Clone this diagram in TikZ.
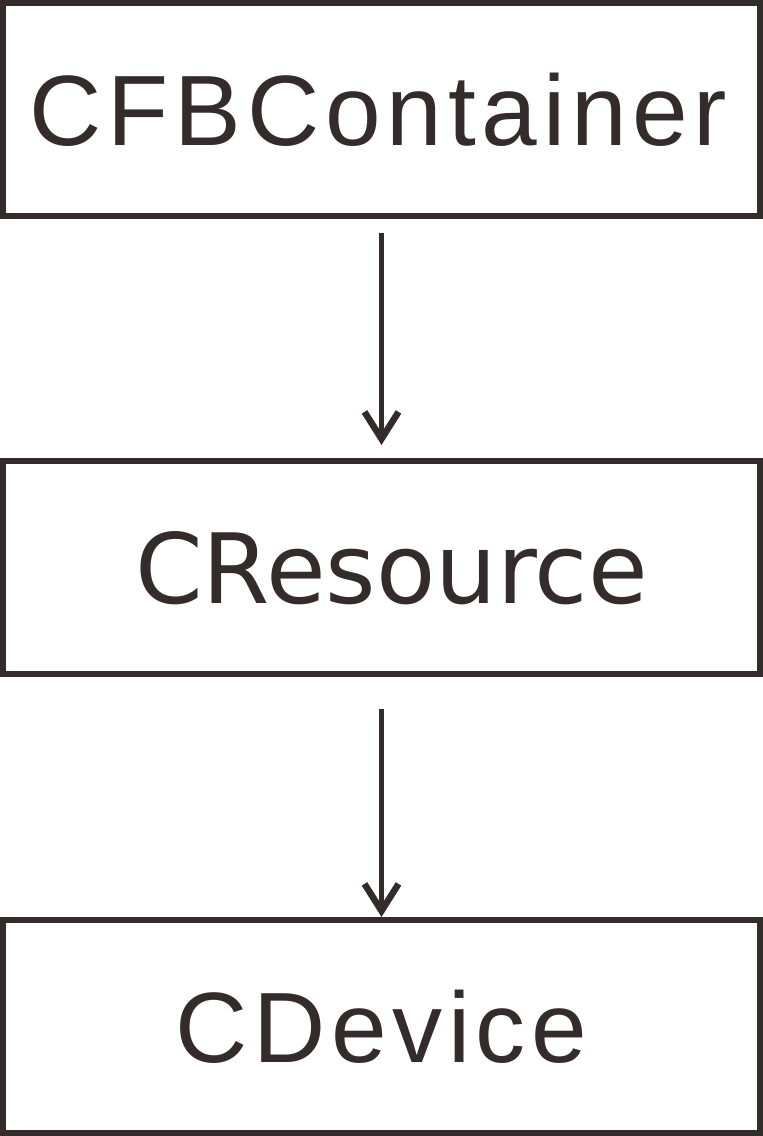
\documentclass[tikz,border=0pt]{standalone}
\usepackage{fontspec}
\setmainfont{Liberation Sans}
\newfontfamily\dejavu{DejaVu Sans}
\usetikzlibrary{arrows.meta}
\definecolor{ink}{HTML}{342C2A}
\begin{document}
\begin{tikzpicture}[x=1pt,y=-1pt,
  box/.style={draw=ink, line width=6pt, minimum width=757pt, minimum height=213pt,
    inner sep=0pt, text=ink, text height=71pt, text depth=0pt,
    font=\fontsize{100}{100}\selectfont},
  conn/.style={draw=ink, line width=5.5pt, -{Straight Barb[length=27pt,width=34pt,line width=6.5pt]}}]
\useasboundingbox (0,0) rectangle (763,1136);
\node[box] (cfb) at (381.5,109.5) {\hspace*{-6pt}\addfontfeature{LetterSpace=5.8}CFBContainer};
\node[box] (res) at (381.5,567.5) {\hspace*{20pt}{\dejavu\fontsize{97}{97}\selectfont CResource}};
\node[box] (dev) at (381.5,1026.5) {\addfontfeature{LetterSpace=5.6}CDevice};
\draw[conn, shorten <=14pt, shorten >=13pt] (cfb) -- (res);
\draw[conn, shorten <=32pt] (res) -- (dev);
\end{tikzpicture}
\end{document}
